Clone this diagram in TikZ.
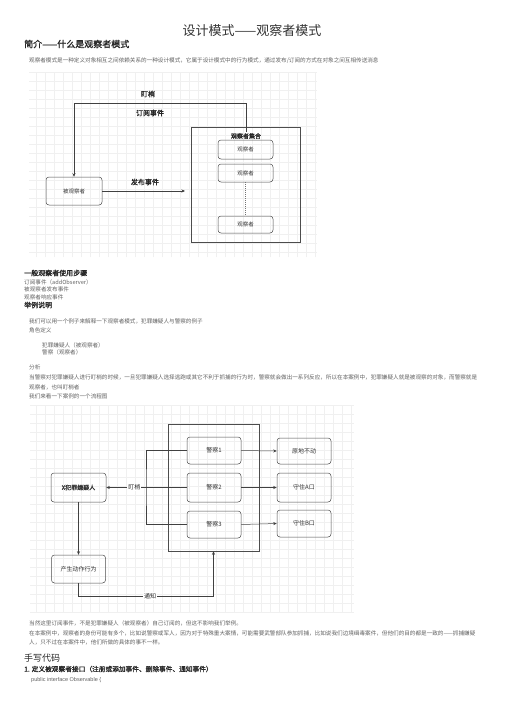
\documentclass[tikz,border=0pt]{standalone}
\usepackage{fontspec}
\setmainfont{Noto Sans CJK SC}[AutoFakeBold=1.2]
\newfontfamily\codefont{Liberation Sans}
\usetikzlibrary{arrows.meta,calc}

\begin{document}
\begin{tikzpicture}[x=1pt,y=-1pt,>={Stealth[length=3.5pt,width=3pt]},
  body/.style={anchor=west,inner sep=0,text=black!62,font=\fontsize{5.6}{6.5}\selectfont},
  head/.style={anchor=west,inner sep=0,text=black!85,font=\fontsize{7}{8}\selectfont\bfseries},
  box/.style={draw=black!70,rounded corners=3pt,line width=0.5pt,text=black!80,font=\fontsize{5.5}{6}\selectfont},
  frame/.style={draw=black!70,line width=0.5pt,inner sep=0},
  wire/.style={draw=black!75,line width=0.5pt},
  lbl/.style={font=\fontsize{7}{8}\selectfont\bfseries,text=black!85,inner sep=1pt},
  gridbg/.style={draw=black!6,line width=0.3pt}]
  \useasboundingbox[fill=white] (0,0) rectangle (504,713);

  % page text, top
  \node[inner sep=0,text=black!80,font=\fontsize{13}{14}\selectfont] (title) at (252,31) {设计模式——观察者模式};
  \node[head,font=\fontsize{9}{10}\selectfont\bfseries] (intro) at (24,44) {简介——什么是观察者模式};
  \node[body] (introtxt) at (29,61) {观察者模式是一种定义对象相互之间依赖关系的一种设计模式，它属于设计模式中的行为模式，通过发布/订阅的方式在对象之间互相传送消息};

  % first diagram
  \draw[gridbg,step=9pt] (29,72) grid (317,257);
  \node[box,minimum width=56pt,minimum height=28pt] (subj) at (74,191) {被观察者};
  \node[frame,minimum width=109pt,minimum height=115pt] (set) at (245.5,184.5) {};
  \node[lbl,font=\fontsize{6}{7}\selectfont\bfseries] (setlab) at (246,136) {观察者集合};
  \node[box,minimum width=55pt,minimum height=19pt] (o1) at (245.5,149.5) {观察者};
  \node[box,minimum width=55pt,minimum height=18pt] (o2) at (245.5,173) {观察者};
  \node[box,minimum width=55pt,minimum height=17pt] (o3) at (245.5,224.5) {观察者};
  \coordinate (tl) at (74,103);
  \coordinate (pubend) at (185,191);
  \draw[wire,->] (setlab.north) |- (tl) -- (subj.north);
  \draw[wire,->] (subj.east) -- (pubend);
  \draw[draw=black!55,line width=0.4pt,dash pattern=on 1pt off 1pt] (o2.south) -- (o3.north);
  \node[lbl] (watch1) at (148,94) {盯梢};
  \node[lbl] (subs) at (150,113) {订阅事件};
  \node[lbl] (pub) at (145,182) {发布事件};

  % page text, middle
  \node[head] (steps) at (24,273) {一般观察者使用步骤};
  \node[body] (s1) at (24,282) {订阅事件（addObserver）};
  \node[body] (s2) at (24,289.5) {被观察者发布事件};
  \node[body] (s3) at (24,297) {观察者响应事件};
  \node[head] (ex) at (24,305) {举例说明};
  \node[body] (e1) at (29,321) {我们可以用一个例子来解释一下观察者模式，犯罪嫌疑人与警察的例子};
  \node[body] (e2) at (29,330) {角色定义};
  \node[body] (e3) at (42,345) {犯罪嫌疑人（被观察者）};
  \node[body] (e4) at (42,352.5) {警察（观察者）};
  \node[body] (a0) at (29,367) {分析};
  \node[body] (a1) at (29,377) {当警察对犯罪嫌疑人进行盯梢的时候，一旦犯罪嫌疑人选择逃跑或其它不利于抓捕的行为时，警察就会做出一系列反应，所以在本案例中，犯罪嫌疑人就是被观察的对象，而警察就是};
  \node[body] (a2) at (29,387) {观察者，也叫盯梢者};
  \node[body] (a3) at (29,396) {我们来看一下案例的一个流程图};

  % second diagram
  \draw[gridbg,step=9pt] (30,405) grid (354,612);
  \node[box,minimum width=55pt,minimum height=29pt,font=\fontsize{6}{7}\selectfont\bfseries] (susp) at (78.5,487.5) {X犯罪嫌疑人};
  \node[box,minimum width=54pt,minimum height=28pt,font=\fontsize{6}{7}\selectfont] (act) at (78.5,569) {产生动作行为};
  \node[frame,minimum width=91pt,minimum height=127pt] (grp) at (213.5,487.5) {};
  \node[box,minimum width=54pt,minimum height=27pt,font=\fontsize{6}{7}\selectfont] (p1) at (214,450.5) {警察1};
  \node[box,minimum width=54pt,minimum height=29pt,font=\fontsize{6}{7}\selectfont] (p2) at (214,487.5) {警察2};
  \node[box,minimum width=54pt,minimum height=27pt,font=\fontsize{6}{7}\selectfont] (p3) at (214,524.5) {警察3};
  \node[box,minimum width=54pt,minimum height=26pt,font=\fontsize{6}{7}\selectfont] (r1) at (304,451) {原地不动};
  \node[box,minimum width=54pt,minimum height=29pt,font=\fontsize{6}{7}\selectfont] (r2) at (304,487.5) {守住A口};
  \node[box,minimum width=54pt,minimum height=27pt,font=\fontsize{6}{7}\selectfont] (r3) at (304,523.5) {守住B口};
  \coordinate (bx) at (146,487.5);
  \coordinate (nl) at (78.5,596);
  \draw[wire] (p1.west) -| (bx) |- (p3.west);
  \draw[wire,->] (p2.west) -- node[pos=0.65,fill=white,font=\fontsize{6}{7}\selectfont,text=black!85,inner sep=1pt] (watch2) {盯梢} (susp.east);
  \draw[wire,->] (susp.south) -- (act.north);
  \draw[wire,->] (act.south) -- (nl) -- node[pos=0.53,fill=white,font=\fontsize{6}{7}\selectfont,text=black!85,inner sep=1pt] (notify) {通知} (nl -| grp.south) -- (grp.south);
  \foreach \i in {1,2,3}{
    \draw[wire,->] (p\i.east) -- (r\i.west);
  }

  % page text, bottom
  \node[body] (n1) at (29,623) {当然这里订阅事件，不是犯罪嫌疑人（被观察者）自己订阅的，但这不影响我们举例。};
  \node[body] (n2) at (29,633) {在本案例中，观察者的身份可能有多个，比如说警察或军人，因为对于特殊重大案情，可能需要武警部队参加抓捕，比如说我们边境缉毒案件，但他们的目的都是一致的——抓捕嫌疑};
  \node[body] (n3) at (29,642) {人，只不过在本案件中，他们所做的具体的事不一样。};
  \node[head,font=\fontsize{9}{10}\selectfont,text=black!85] (code) at (24,658) {手写代码};
  \node[head,font=\fontsize{6.7}{7.5}\selectfont\bfseries] (step1) at (24,669) {1. 定义被观察者接口（注册或添加事件、删除事件、通知事件）};
  \node[body,font=\fontsize{5.5}{6}\codefont] (decl) at (31,680) {public interface Observable \{};
\end{tikzpicture}
\end{document}
